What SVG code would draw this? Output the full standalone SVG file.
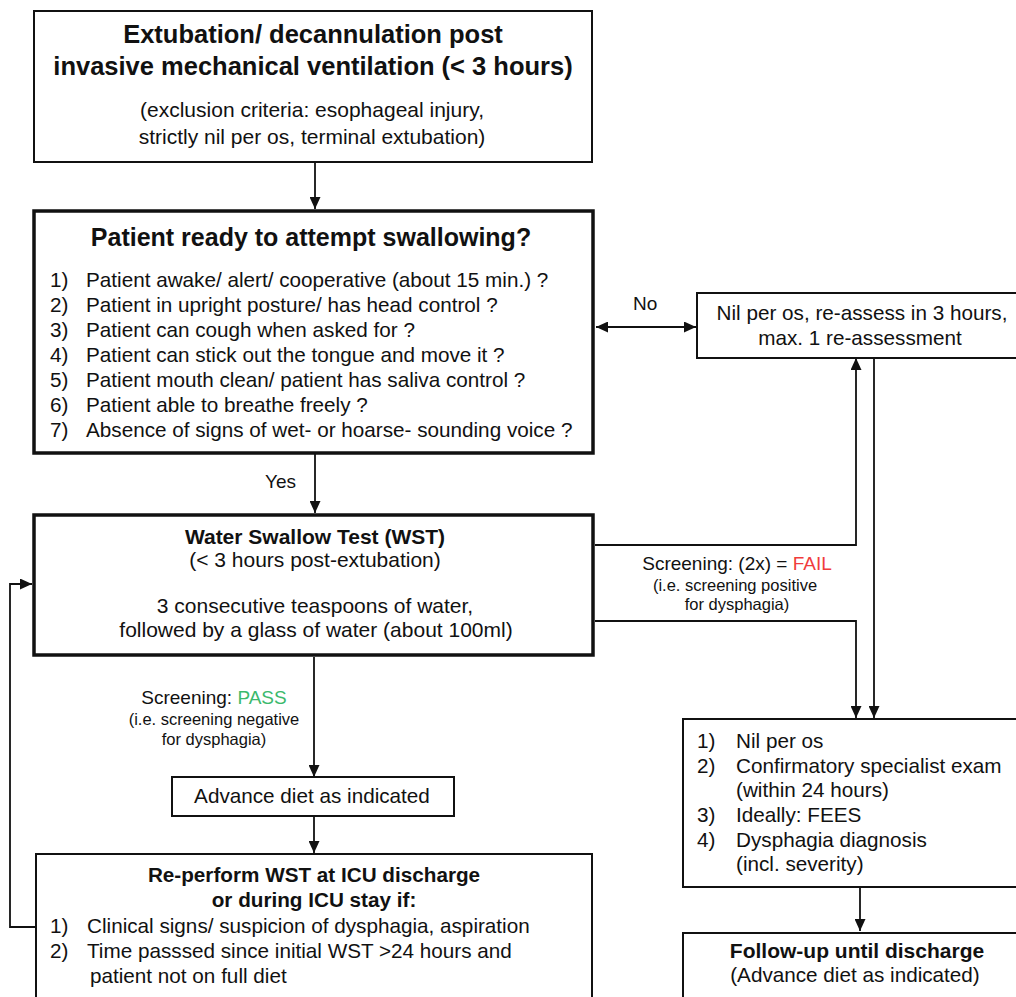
<svg xmlns="http://www.w3.org/2000/svg" width="1016" height="997" viewBox="0 0 1016 997">
<defs>
<style>
text{font-family:"Liberation Sans",Arial,sans-serif;fill:#111;}
.b{font-weight:bold;}
.c{text-anchor:middle;}
.box{fill:#fff;stroke:#111;stroke-width:2;}
.thick{fill:#fff;stroke:#111;stroke-width:3.5;}
.ln{fill:none;stroke:#111;stroke-width:1.8;}
.f25{font-size:25.5px;}
.f24{font-size:25px;}
.f21{font-size:21px;}
.f20{font-size:20.7px;}
.f19{font-size:19px;}
.f16{font-size:16.5px;}
</style>
<marker id="ah" viewBox="0 0 12 11" refX="12" refY="5.5" markerWidth="12" markerHeight="11" markerUnits="userSpaceOnUse" orient="auto-start-reverse">
<path d="M0,0 L12,5.5 L0,11 Z" fill="#111"/>
</marker>
</defs>
<rect width="1016" height="997" fill="#fff"/>

<g id="connectors">
<line class="ln" x1="315" y1="162" x2="315" y2="209" marker-end="url(#ah)"/>
<line class="ln" x1="315" y1="454" x2="315" y2="513" marker-end="url(#ah)"/>
<line class="ln" x1="596" y1="327" x2="696" y2="327" marker-start="url(#ah)" marker-end="url(#ah)"/>
<polyline class="ln" points="595,545 856,545 856,358" marker-end="url(#ah)"/>
<polyline class="ln" points="595,621 856,621 856,718" marker-end="url(#ah)"/>
<line class="ln" x1="874" y1="358" x2="874" y2="718" marker-end="url(#ah)"/>
<line class="ln" x1="314" y1="657" x2="314" y2="777" marker-end="url(#ah)"/>
<line class="ln" x1="314" y1="816" x2="314" y2="853" marker-end="url(#ah)"/>
<line class="ln" x1="860" y1="887" x2="860" y2="931" marker-end="url(#ah)"/>
<polyline class="ln" points="36,927 10,927 10,584 32,584" marker-end="url(#ah)"/>
<text class="f19" x="633" y="310">No</text>
<text class="f19" x="265" y="488">Yes</text>
<text class="f19 c" x="737" y="570">Screening: (2x) = <tspan fill="#f03c3c">FAIL</tspan></text>
<text class="f16 c" x="735" y="591">(i.e. screening positive</text>
<text class="f16 c" x="737" y="610">for dysphagia)</text>
<text class="f19 c" x="214" y="704">Screening: <tspan fill="#3cb96c">PASS</tspan></text>
<text class="f16 c" x="214" y="725">(i.e. screening negative</text>
<text class="f16 c" x="214" y="745">for dysphagia)</text>
</g>

<g id="extubation">
<rect class="box" x="34" y="11" width="558" height="151"/>
<text class="b f25 c" x="313" y="43">Extubation/ decannulation post</text>
<text class="b f25 c" x="313" y="75">invasive mechanical ventilation (&lt; 3 hours)</text>
<text class="f21 c" x="312" y="117">(exclusion criteria: esophageal injury,</text>
<text class="f21 c" x="312" y="144">strictly nil per os, terminal extubation)</text>
</g>

<g id="ready">
<rect class="thick" x="34" y="211" width="559" height="242"/>
<text class="b f24 c" x="311" y="246">Patient ready to attempt swallowing?</text>
<g class="f20">
<text x="50" y="287">1)</text><text x="86" y="287">Patient awake/ alert/ cooperative (about 15 min.) ?</text>
<text x="50" y="312">2)</text><text x="86" y="312">Patient in upright posture/ has head control ?</text>
<text x="50" y="337">3)</text><text x="86" y="337">Patient can cough when asked for ?</text>
<text x="50" y="362">4)</text><text x="86" y="362">Patient can stick out the tongue and move it ?</text>
<text x="50" y="387">5)</text><text x="86" y="387">Patient mouth clean/ patient has saliva control ?</text>
<text x="50" y="412">6)</text><text x="86" y="412">Patient able to breathe freely ?</text>
<text x="50" y="437">7)</text><text x="86" y="437">Absence of signs of wet- or hoarse- sounding voice ?</text>
</g>
</g>

<g id="nilperos">
<rect class="box" x="697" y="293" width="330" height="65"/>
<text class="f20 c" x="862" y="320">Nil per os, re-assess in 3 hours,</text>
<text class="f20 c" x="860" y="345">max. 1 re-assessment</text>
</g>

<g id="wst">
<rect class="thick" x="34" y="515" width="559" height="140"/>
<text class="b f21 c" x="315" y="544">Water Swallow Test (WST)</text>
<text class="f21 c" x="315" y="567">(&lt; 3 hours post-extubation)</text>
<text class="f21 c" x="315" y="613">3 consecutive teaspoons of water,</text>
<text class="f21 c" x="316" y="637">followed by a glass of water (about 100ml)</text>
</g>

<g id="advance">
<rect class="box" x="172" y="777" width="282" height="39"/>
<text class="f20 c" x="312" y="803">Advance diet as indicated</text>
</g>

<g id="reperform">
<rect class="box" x="36" y="854" width="556" height="160"/>
<text class="b f20 c" x="314" y="882">Re-perform WST at ICU discharge</text>
<text class="b f20 c" x="314" y="907">or during ICU stay if:</text>
<g class="f20">
<text x="50" y="933">1)</text><text x="87" y="933">Clinical signs/ suspicion of dysphagia, aspiration</text>
<text x="50" y="958">2)</text><text x="87" y="958">Time passsed since initial WST &gt;24 hours and</text>
<text x="90" y="983">patient not on full diet</text>
</g>
</g>

<g id="confirm">
<rect class="box" x="683" y="719" width="345" height="168"/>
<g class="f20">
<text x="697" y="748">1)</text><text x="736" y="748">Nil per os</text>
<text x="697" y="773">2)</text><text x="736" y="773">Confirmatory specialist exam</text>
<text x="736" y="797">(within 24 hours)</text>
<text x="697" y="822">3)</text><text x="736" y="822">Ideally: FEES</text>
<text x="697" y="847">4)</text><text x="736" y="847">Dysphagia diagnosis</text>
<text x="736" y="871">(incl. severity)</text>
</g>
</g>

<g id="followup">
<rect class="box" x="683" y="933" width="345" height="80"/>
<text class="b f21 c" x="857" y="958">Follow-up until discharge</text>
<text class="f20 c" x="855" y="982">(Advance diet as indicated)</text>
</g>
</svg>
